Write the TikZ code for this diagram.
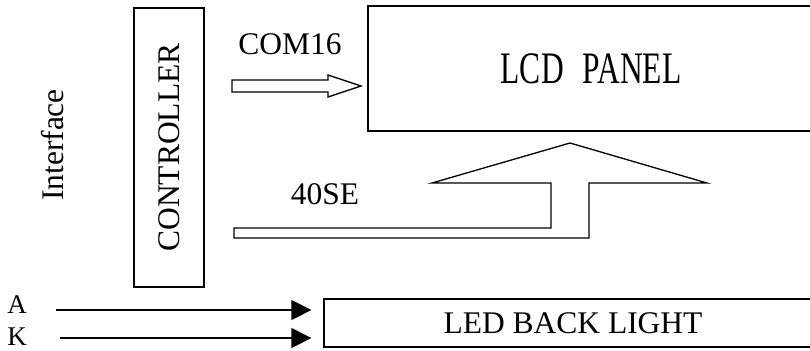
\documentclass[tikz,border=0pt]{standalone}
\usepackage{fontspec}
\setmainfont{Liberation Serif}
\usepackage{tikz}
\usetikzlibrary{arrows.meta, positioning}
\tikzstyle{block} = [rectangle,
inner sep=0pt,
text centered,
draw=black,
line width=0.65pt,
font=\fontsize{15.75}{18}\selectfont]
\tikzstyle{txt} = [inner sep=0pt,
font=\fontsize{15.75}{18}\selectfont]
\tikzstyle{pintext} = [inner sep=0pt,
font=\fontsize{13.5}{16}\selectfont]
\tikzstyle{hollow} = [draw=black, fill=white, line width=0.65pt]
\tikzstyle{ledarrow} = [line width=0.65pt, shorten >=6pt,
-{Triangle[length=10pt, width=10pt]}]

\begin{document}
\begin{tikzpicture}[x=0.5pt, y=-0.5pt]
            \useasboundingbox (0,0) rectangle (810,350);
            \clip (0,0) rectangle (810,350);
            \node (ctrl) [block, rotate=90, minimum width=139.5pt, minimum height=35pt] at (169,147.5) {CONTROLLER};
            \node (iface) [txt, rotate=90] at (53,145) {Interface};
            \node (lcd) [block, minimum width=223pt, minimum height=62.5pt] at (591,68.5) {\scalebox{0.7}[1]{\fontsize{22.5}{26}\selectfont LCD\hspace{0.6em}PANEL}};
            \node (led) [block, minimum width=249pt, minimum height=24pt] at (573,323) {LED BACK LIGHT};
            \node (com) [txt] at (290,44) {COM16};
            \node (seg) [txt] at (325,194) {40SE};
            \node (a) [pintext] at (17,305) {A};
            \node (k) [pintext, below of=a, node distance=16pt] {K};

            % open arrows to the panel
            \draw [hollow] (232,80) -- (328,80) -- (328,75) -- (361,86) -- (328,97) -- (328,92) -- (232,92) -- cycle;
            \draw [hollow] (234,228) -- (551,228) -- (551,183) -- (432,183) -- (570,143) -- (707,183) -- (589,183) -- (589,238) -- (234,238) -- cycle;

            \coordinate (a0) at (56,310);
            \coordinate (k0) at (60,338);
            \draw [ledarrow] (a0) -- (a0 -| led.west);
            \draw [ledarrow] (k0) -- (k0 -| led.west);
        \end{tikzpicture}
\end{document}
